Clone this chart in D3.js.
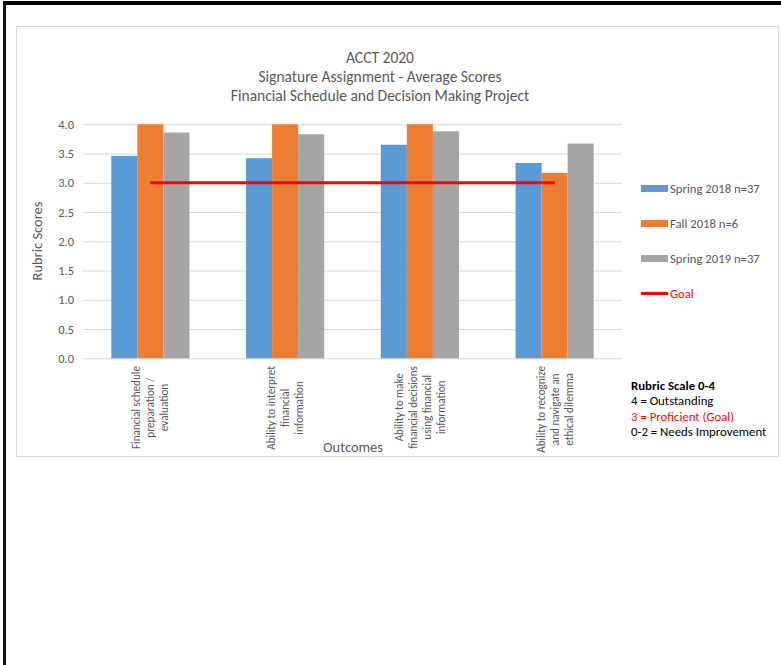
<!DOCTYPE html>
<html>
<head>
<meta charset="utf-8">
<script src="https://cdn.jsdelivr.net/npm/d3@7"></script>
<style>
  html, body { margin: 0; padding: 0; background: #fff; }
  svg { display: block; font-family: Carlito, Calibri, Lato, "Open Sans", sans-serif; }
</style>
</head>
<body>
<svg id="chart" width="781" height="665"></svg>
<script>
// Outcome categories (each entry holds the wrapped lines of its axis label)
const categories = [
  ["Financial schedule", "preparation /", "evaluation"],
  ["Ability to interpret", "financial", "information"],
  ["Ability to make", "financial decisions", "using financial", "information"],
  ["Ability to recognize", "and navigate an", "ethical dilemma"]
];
const seriesNames = ["Spring 2018 n=37", "Fall 2018 n=6", "Spring 2019 n=37"];
const spring2018 = [3.46, 3.42, 3.65, 3.34];
const fall2018 = [4.0, 4.0, 4.0, 3.17];
const spring2019 = [3.86, 3.83, 3.88, 3.67];
const goal = [3.0, 3.0, 3.0, 3.0];
const goalName = "Goal";
const yTicks = [0, 0.5, 1.0, 1.5, 2.0, 2.5, 3.0, 3.5, 4.0];
const titleLines = ["ACCT 2020", "Signature Assignment - Average Scores", "Financial Schedule and Decision Making Project"];
const rubricLines = ["Rubric Scale 0-4", "4 = Outstanding", "3 = Proficient (Goal)", "0-2 = Needs Improvement"];

const colors = ["#5B9BD5", "#ED7D31", "#A5A5A5"];
const textColor = "#595959";
const series = [spring2018, fall2018, spring2019];

const svg = d3.select("#chart");

// page frame
svg.append("rect").attr("x", 3).attr("y", 1).attr("width", 778).attr("height", 4).attr("fill", "#000");
svg.append("rect").attr("x", 3).attr("y", 1).attr("width", 3).attr("height", 664).attr("fill", "#111");

// chart area border
svg.append("rect").attr("x", 16.5).attr("y", 26.5).attr("width", 762).attr("height", 430)
  .attr("fill", "#fff").attr("stroke", "#d9d9d9").attr("stroke-width", 1);

// title
svg.append("g").selectAll("text").data(titleLines).join("text")
  .attr("x", 380).attr("y", (d, i) => 63 + i * 19)
  .attr("text-anchor", "middle").attr("font-size", 15.5).attr("fill", textColor)
  .text(d => d);

const plot = { left: 83, right: 622, top: 124.3, bottom: 358.3 };

const x = d3.scaleBand().domain(d3.range(categories.length))
  .range([plot.left, plot.right]).paddingInner(0.42).paddingOuter(0.21);
const xs = d3.scaleBand().domain(d3.range(series.length)).range([0, x.bandwidth()]).padding(0);
const y = d3.scaleLinear().domain([0, 4]).range([plot.bottom, plot.top]);

// y axis with gridlines
const yAxis = svg.append("g").attr("transform", `translate(${plot.left},0)`)
  .call(d3.axisLeft(y).tickValues(yTicks).tickFormat(d3.format(".1f"))
    .tickSize(-(plot.right - plot.left)).tickPadding(9));
yAxis.select(".domain").remove();
yAxis.selectAll(".tick line").attr("stroke", "#d9d9d9");
yAxis.selectAll(".tick text").attr("fill", textColor).attr("font-size", 12.5)
  .attr("font-family", "Carlito, Calibri, Lato, sans-serif");

// bars
const groups = svg.append("g").selectAll("g").data(categories).join("g")
  .attr("transform", (d, i) => `translate(${x(i)},0)`);
groups.selectAll("rect").data((d, i) => series.map((s, k) => ({ k, v: s[i] }))).join("rect")
  .attr("x", d => xs(d.k)).attr("width", xs.bandwidth())
  .attr("y", d => y(d.v)).attr("height", d => y(0) - y(d.v))
  .attr("fill", d => colors[d.k]);

// goal line
const line = d3.line().x((d, i) => x(i) + x.bandwidth() / 2).y(d => y(d));
svg.append("path").datum(goal).attr("d", line)
  .attr("fill", "none").attr("stroke", "#ff0000").attr("stroke-width", 3);

// x axis category labels (rotated, lines centered)
const lineGap = 14;
categories.forEach((lines, i) => {
  const cx = x(i) + x.bandwidth() / 2;
  const g = svg.append("g");
  const texts = g.selectAll("text").data(lines).join("text")
    .attr("font-size", 11.2).attr("fill", textColor).attr("text-anchor", "middle")
    .text(d => d);
  let maxLen = 0;
  texts.each(function () { maxLen = Math.max(maxLen, this.getComputedTextLength()); });
  const cy = 366 + maxLen / 2;
  texts.attr("transform", (d, j) => {
    const off = (j - (lines.length - 1) / 2) * lineGap + 4;
    return `translate(${cx + off},${cy}) rotate(-90)`;
  });
});

// axis titles
svg.append("text").attr("transform", "translate(42,241) rotate(-90)")
  .attr("text-anchor", "middle").attr("font-size", 14.5).attr("fill", textColor).text("Rubric Scores");
svg.append("text").attr("x", 353).attr("y", 452)
  .attr("text-anchor", "middle").attr("font-size", 14.5).attr("fill", textColor).text("Outcomes");

// legend
const legend = svg.append("g");
const legendItems = seriesNames.map((n, k) => ({ name: n, color: colors[k], type: "bar" }))
  .concat([{ name: goalName, color: "#ff0000", type: "line" }]);
legendItems.forEach((d, i) => {
  const cy = 188.5 + i * 35;
  if (d.type === "bar") {
    legend.append("rect").attr("x", 641).attr("y", cy - 3.5).attr("width", 27).attr("height", 7).attr("fill", d.color);
  } else {
    legend.append("line").attr("x1", 641).attr("x2", 668).attr("y1", cy).attr("y2", cy)
      .attr("stroke", d.color).attr("stroke-width", 3);
  }
  legend.append("text").attr("x", 670).attr("y", cy + 4.5).attr("font-size", 12.7)
    .attr("fill", d.type === "line" ? "#ff0000" : textColor).text(d.name);
});

// rubric scale note
svg.append("g").selectAll("text").data(rubricLines).join("text")
  .attr("x", 631).attr("y", (d, i) => 390 + i * 15.3)
  .attr("font-size", 12.8)
  .attr("font-weight", (d, i) => i === 0 ? "bold" : "normal")
  .attr("fill", (d, i) => i === 2 ? "#ff0000" : "#000")
  .text(d => d);
</script>
</body>
</html>
